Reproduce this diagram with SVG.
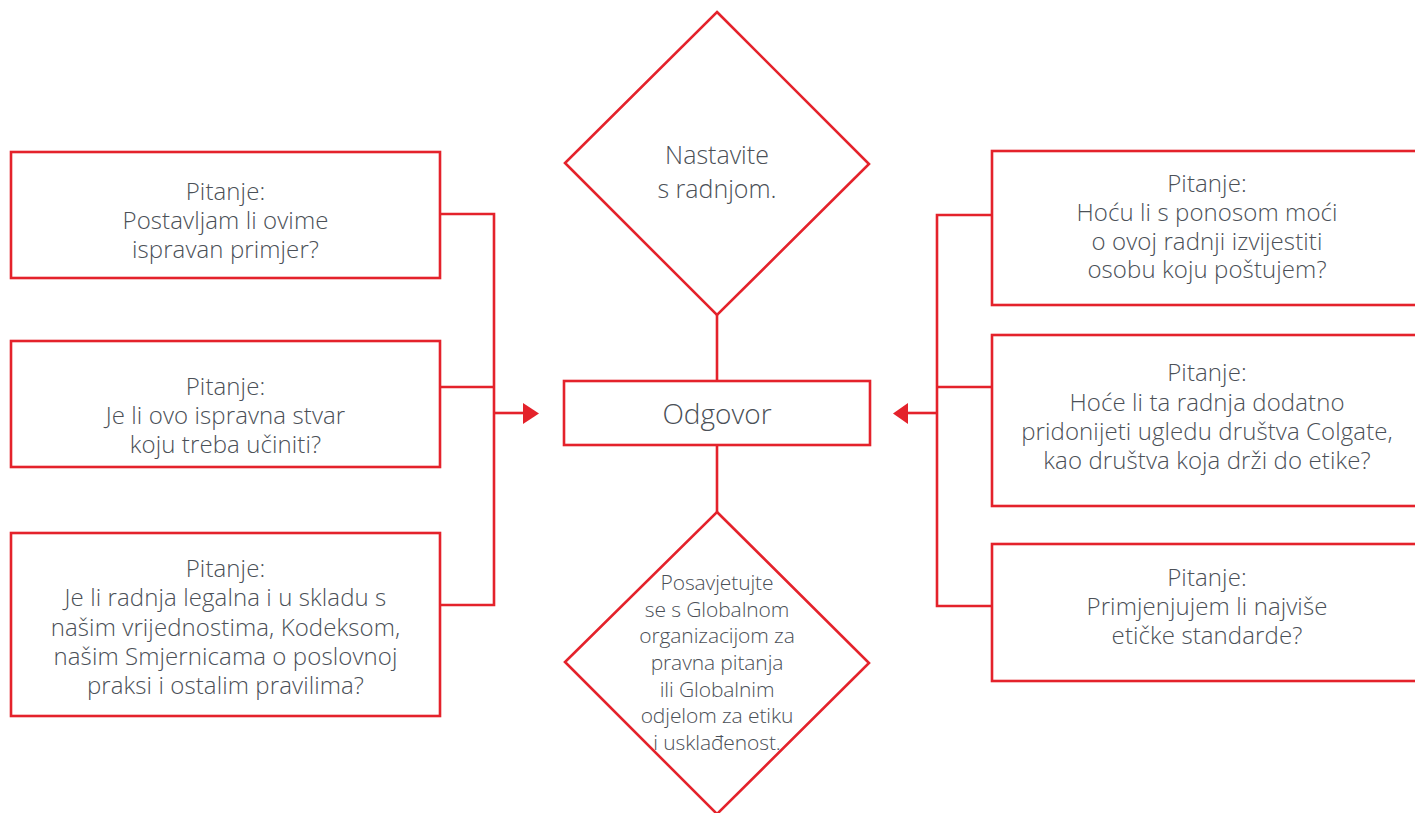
<svg xmlns="http://www.w3.org/2000/svg" width="1415" height="813" viewBox="0 0 1415 813">
<defs>
<style>
.box{fill:#ffffff;stroke:#e4222b;stroke-width:2.6}
.ln{fill:none;stroke:#e4222b;stroke-width:2.6}
.ah{fill:#e4222b;stroke:none}
.t{font-family:"Open Sans","Liberation Sans",sans-serif;font-size:24px;font-weight:300;fill:#4b5057;text-anchor:middle;letter-spacing:0.1px}
.tt{font-family:"Open Sans","Liberation Sans",sans-serif;font-size:25px;font-weight:300;fill:#4b5057;text-anchor:middle}
.td{font-family:"Open Sans","Liberation Sans",sans-serif;font-size:21px;font-weight:300;fill:#4b5057;text-anchor:middle;letter-spacing:-0.1px}
.tb{font-family:"Open Sans","Liberation Sans",sans-serif;font-size:28px;font-weight:300;fill:#4b5057;text-anchor:middle}
</style>
</defs>
<rect width="1415" height="813" fill="#ffffff"/>
<g id="connectors">
<polyline class="ln" points="440,214 494,214 494,605 440,605"/>
<line class="ln" x1="440" y1="387" x2="494" y2="387"/>
<line class="ln" x1="494" y1="413" x2="524" y2="413"/>
<polygon class="ah" points="523,403 539,413.5 523,424"/>
<polyline class="ln" points="992,215 937,215 937,606 992,606"/>
<line class="ln" x1="937" y1="387" x2="992" y2="387"/>
<line class="ln" x1="937" y1="413" x2="907" y2="413"/>
<polygon class="ah" points="908,403 893,413.5 908,424"/>
<line class="ln" x1="717" y1="315" x2="717" y2="381"/>
<line class="ln" x1="717" y1="445" x2="717" y2="512"/>
</g>
<g id="top-diamond">
<polygon class="box" points="717,12 869,164 717,315 565,163"/>
<text class="tt" x="717" y="164">Nastavite</text>
<text class="tt" x="717" y="198">s radnjom.</text>
</g>
<g id="answer">
<rect class="box" x="564" y="381" width="306" height="64"/>
<text class="tb" x="717" y="424">Odgovor</text>
</g>
<g id="bottom-diamond">
<polygon class="box" points="717,512 869,663 717,814 565,662"/>
<text class="td" x="717" y="590">Posavjetujte</text>
<text class="td" x="717" y="617">se s Globalnom</text>
<text class="td" x="717" y="643">organizacijom za</text>
<text class="td" x="717" y="670">pravna pitanja</text>
<text class="td" x="717" y="697">ili Globalnim</text>
<text class="td" x="717" y="723">odjelom za etiku</text>
<text class="td" x="717" y="750">i usklađenost.</text>
</g>
<g id="left-q1">
<rect class="box" x="11" y="152" width="429" height="126"/>
<text class="t" x="225.5" y="200">Pitanje:</text>
<text class="t" x="225.5" y="229">Postavljam li ovime</text>
<text class="t" x="225.5" y="258">ispravan primjer?</text>
</g>
<g id="left-q2">
<rect class="box" x="11" y="341" width="429" height="126"/>
<text class="t" x="225.5" y="395">Pitanje:</text>
<text class="t" x="225.5" y="424">Je li ovo ispravna stvar</text>
<text class="t" x="225.5" y="453">koju treba učiniti?</text>
</g>
<g id="left-q3">
<rect class="box" x="11" y="533" width="429" height="183"/>
<text class="t" x="225.5" y="577">Pitanje:</text>
<text class="t" x="225.5" y="606">Je li radnja legalna i u skladu s</text>
<text class="t" x="225.5" y="636">našim vrijednostima, Kodeksom,</text>
<text class="t" x="225.5" y="665">našim Smjernicama o poslovnoj</text>
<text class="t" x="225.5" y="694">praksi i ostalim pravilima?</text>
</g>
<g id="right-q1">
<rect class="box" x="992" y="151" width="440" height="154"/>
<text class="t" x="1207" y="192">Pitanje:</text>
<text class="t" x="1207" y="221">Hoću li s ponosom moći</text>
<text class="t" x="1207" y="250">o ovoj radnji izvijestiti</text>
<text class="t" x="1207" y="278">osobu koju poštujem?</text>
</g>
<g id="right-q2">
<rect class="box" x="992" y="335" width="440" height="171"/>
<text class="t" x="1207" y="381">Pitanje:</text>
<text class="t" x="1207" y="411">Hoće li ta radnja dodatno</text>
<text class="t" x="1207" y="440">pridonijeti ugledu društva Colgate,</text>
<text class="t" x="1207" y="469">kao društva koja drži do etike?</text>
</g>
<g id="right-q3">
<rect class="box" x="992" y="544" width="440" height="137"/>
<text class="t" x="1207" y="586">Pitanje:</text>
<text class="t" x="1207" y="615">Primjenjujem li najviše</text>
<text class="t" x="1207" y="644">etičke standarde?</text>
</g>
</svg>
